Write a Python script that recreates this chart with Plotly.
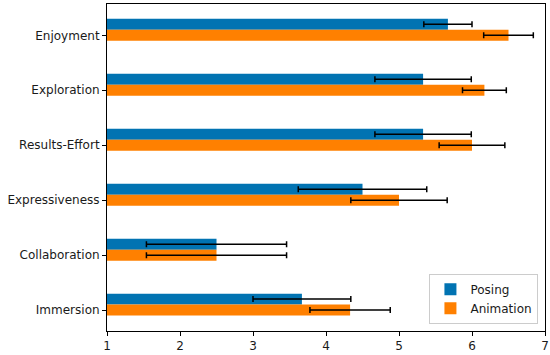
import plotly.graph_objects as go

categories = ["Immersion", "Collaboration", "Expressiveness", "Results-Effort", "Exploration", "Enjoyment"]
posing = [3.67, 2.5, 4.5, 5.33, 5.33, 5.67]
posing_err = [0.67, 0.96, 0.88, 0.66, 0.66, 0.33]
animation = [4.33, 2.5, 5.0, 6.0, 6.17, 6.5]
animation_err = [0.55, 0.96, 0.66, 0.45, 0.3, 0.34]
x_ticks = [1, 2, 3, 4, 5, 6, 7]

BAR_H = 0.2
pos_idx = list(range(len(categories)))

fig = go.Figure()
fig.add_trace(go.Bar(
    y=[i + BAR_H for i in pos_idx], x=posing, orientation="h", width=BAR_H,
    name="Posing", marker=dict(color="#0173B2", line=dict(width=0)),
    error_x=dict(type="data", array=posing_err, color="black", thickness=1.5, width=3),
))
fig.add_trace(go.Bar(
    y=pos_idx, x=animation, orientation="h", width=BAR_H,
    name="Animation", marker=dict(color="#FF8000", line=dict(width=0)),
    error_x=dict(type="data", array=animation_err, color="black", thickness=1.5, width=3),
))

axis_font = dict(family="DejaVu Sans", size=12, color="#1a1a1a")
fig.update_layout(
    width=550, height=355,
    margin=dict(l=107, r=5, t=4, b=24, autoexpand=False),
    barmode="overlay",
    plot_bgcolor="white", paper_bgcolor="white",
    font=axis_font,
    showlegend=True,
    legend=dict(
        x=0.985, y=0.022, xanchor="right", yanchor="bottom",
        bgcolor="rgba(255,255,255,0.8)", bordercolor="#cccccc", borderwidth=1,
        font=dict(family="DejaVu Sans", size=12, color="#1a1a1a"),
        traceorder="normal", itemwidth=30, tracegroupgap=0,
    ),
    xaxis=dict(
        range=[1, 7], tickvals=x_ticks, ticktext=[str(v) for v in x_ticks],
        showgrid=False, zeroline=False, automargin=False,
        showline=True, linecolor="black", linewidth=1, mirror=True,
        ticks="outside", ticklen=4, tickcolor="black",
    ),
    yaxis=dict(
        range=[-0.38, 5.57], tickvals=pos_idx, ticktext=categories,
        showgrid=False, zeroline=False, automargin=False,
        showline=True, linecolor="black", linewidth=1, mirror=True,
        ticks="outside", ticklen=4, tickcolor="black",
    ),
)
fig.write_html(
    "out.html",
    config={"displayModeBar": False},
    post_script="document.body.style.margin='0';document.body.style.overflow='hidden';",
)
